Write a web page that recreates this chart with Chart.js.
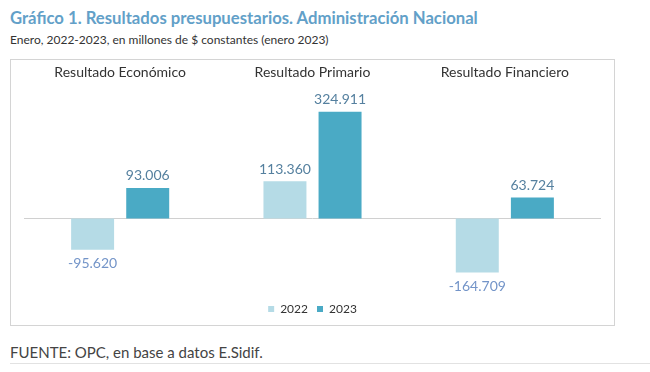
<!DOCTYPE html>
<html><head><meta charset="utf-8">
<script src="https://cdn.jsdelivr.net/npm/chart.js@4"></script>
<style>
html,body{margin:0;padding:0;background:#fff;width:650px;height:372px;overflow:hidden;font-family:Lato,"Open Sans",sans-serif;}
#title{position:absolute;left:10px;top:8px;font-size:16.7px;font-weight:bold;color:#62a0c8;white-space:nowrap;}
#sub{position:absolute;left:10px;top:32px;font-size:12px;color:#333;white-space:nowrap;}
#frame{position:absolute;left:10px;top:59px;width:603px;height:265px;border:1px solid #d4d4d4;}
#wrap{position:absolute;left:0;top:0;width:603px;height:265px;}
#foot{position:absolute;left:10px;top:343px;font-size:15px;color:#444;white-space:nowrap;}
#line{position:absolute;left:10px;top:363px;width:640px;height:1px;background:#e2e2e2;}
</style></head><body>
<div id="title">Gráfico 1. Resultados presupuestarios. Administración Nacional</div>
<div id="sub">Enero, 2022-2023, en millones de $ constantes (enero 2023)</div>
<div id="frame"><div id="wrap"><canvas id="c"></canvas></div></div>
<div id="foot">FUENTE: OPC, en base a datos E.Sidif.</div>
<div id="line"></div>
<script>
const categories = ["Resultado Económico", "Resultado Primario", "Resultado Financiero"];
const seriesNames = ["2022", "2023"];
const values2022 = [-95620, 113360, -164709];
const values2023 = [93006, 324911, 63724];
const yMin = -230000;
const yMax = 410000;

const fmt = v => {
  const s = Math.abs(v).toString().replace(/\B(?=(\d{3})+(?!\d))/g, ".");
  return (v < 0 ? "-" : "") + s;
};

const labelPlugin = {
  id: "labels",
  afterDatasetsDraw(chart) {
    const ctx = chart.ctx;
    ctx.save();
    ctx.font = "14px Lato";
    ctx.textAlign = "center";
    ctx.textBaseline = "middle";
    chart.data.datasets.forEach((ds, i) => {
      chart.getDatasetMeta(i).data.forEach((bar, j) => {
        const v = ds.data[j];
        if (v >= 0) { ctx.fillStyle = "#55809f"; ctx.fillText(fmt(v), bar.x, bar.y - 12); }
        else { ctx.fillStyle = "#7394c8"; ctx.fillText(fmt(v), bar.x, bar.y + 14); }
      });
    });
    ctx.restore();
  }
};
const zeroLine = {
  id: "zero",
  beforeDatasetsDraw(chart) {
    const y = chart.scales.y.getPixelForValue(0);
    const a = chart.chartArea;
    const ctx = chart.ctx;
    ctx.save();
    ctx.strokeStyle = "#d0d0d0";
    ctx.lineWidth = 1;
    ctx.beginPath();
    ctx.moveTo(a.left, Math.round(y) + 0.5);
    ctx.lineTo(a.right, Math.round(y) + 0.5);
    ctx.stroke();
    ctx.restore();
  }
};

new Chart(document.getElementById("c"), {
  type: "bar",
  data: {
    labels: categories,
    datasets: [
      { label: seriesNames[0], data: values2022, backgroundColor: "#b5dbe6", categoryPercentage: 0.573, barPercentage: 0.78 },
      { label: seriesNames[1], data: values2023, backgroundColor: "#4aaac5", categoryPercentage: 0.573, barPercentage: 0.78 }
    ]
  },
  options: {
    responsive: true,
    maintainAspectRatio: false,
    animation: false,
    layout: { padding: { left: 13, right: 13, top: 1, bottom: 0 } },
    plugins: {
      legend: {
        position: "bottom",
        labels: { boxWidth: 6, boxHeight: 6, padding: 9, color: "#333", font: { family: "Lato", size: 12 } }
      },
      tooltip: { enabled: false }
    },
    scales: {
      x: {
        position: "top",
        grid: { display: false, drawTicks: false },
        border: { display: false },
        ticks: { color: "#333", font: { family: "Lato", size: 14 }, padding: 3 }
      },
      y: { display: false, min: yMin, max: yMax }
    }
  },
  plugins: [zeroLine, labelPlugin]
});
</script>
</body></html>
